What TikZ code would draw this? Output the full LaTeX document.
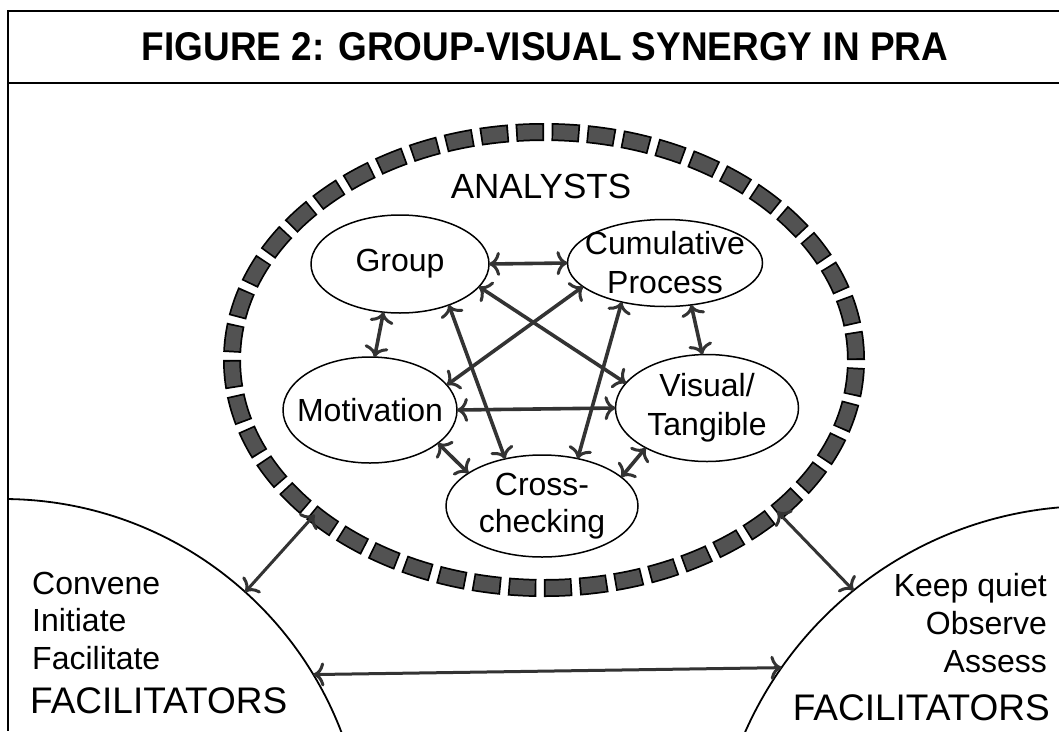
\documentclass[tikz,border=0pt]{standalone}
\usepackage{fontspec}
\setmainfont{Liberation Sans}
\usepackage{graphicx}
\usetikzlibrary{shapes.geometric,arrows.meta}
\begin{document}
\begin{tikzpicture}[x=1pt,y=-1pt,
  bubble/.style={draw, ellipse, line width=1.5pt, inner sep=-40pt, outer sep=0pt, align=center,
    font=\fontsize{32}{39}\selectfont},
  bigcirc/.style={draw, circle, line width=1.8pt, inner sep=0pt, outer sep=0pt},
  link/.style={>={Computer Modern Rightarrow[length=11pt,width=24pt,line width=3pt]}, <->,
    line width=3.6pt, draw=black!80},
  outerlink/.style={link, line width=3pt},
  side/.style={font=\fontsize{32}{38}\selectfont, inner sep=0pt},
  role/.style={font=\fontsize{37}{40}\selectfont, inner sep=0pt},
  frame/.style={line width=1.8pt}
]
\useasboundingbox (0,0) rectangle (1059,731);
\fill[white] (0,0) rectangle (1059,731);

% frame
\draw[frame] (1059,11) -- (8,11) -- (8,731);
\draw[frame] (8,83) -- (1059,83);

% title
\node[anchor=base, inner sep=0pt] (title) at (545,60)
  {\resizebox{806pt}{28pt}{\bfseries FIGURE 2: GROUP-VISUAL SYNERGY IN PRA}};

% facilitator circles
\begin{scope}
  \clip (8,0) rectangle (1059,731);
  \node[bigcirc, minimum size=724pt] (LF) at (3,861) {};
  \node[bigcirc, minimum size=758pt] (RF) at (1092,885) {};
\end{scope}

% analysts dashed ellipse
\node[ellipse, minimum width=624pt, minimum height=456pt, inner sep=0pt, outer sep=0pt,
  draw=black, line width=18pt, dash pattern=on 28pt off 7.56pt,
  postaction={draw=black!68, line width=14.5pt, dash pattern=on 24.5pt off 11.06pt, dash phase=33.81pt}]
  (D) at (544,360) {};
\node[anchor=base, inner sep=0pt, font=\fontsize{35}{40}\selectfont] (an) at (541,198) {ANALYSTS};

% bubbles
\node[bubble, minimum width=178pt, minimum height=98pt] (G) at (400,264) {Group};
\node[bubble, minimum width=195pt, minimum height=87pt] (C) at (665,263) {Cumulative\\Process};
\node[bubble, minimum width=174pt, minimum height=106pt] (M) at (370,410) {Motivation};
\node[bubble, minimum width=183pt, minimum height=107pt] (V) at (707,408) {Visual/\\Tangible};
\node[bubble, minimum width=192pt, minimum height=102pt, font=\fontsize{32}{37}\selectfont] (X) at (542,506) {Cross-\\checking};

% links
\draw[link] (G.east) -- (C.west);
\draw[link] (G.-109) -- (M.85);
\draw[link] (G.-16) -- (V.163);
\draw[link] (G.-40) -- (X.128);
\draw[link] (C.-164) -- (M.18);
\draw[link] (C.-138) -- (X.53);
\draw[link] (C.-58) -- (V.95);
\draw[link] (M.east) -- (V.west);
\draw[link] (M.-26) -- (X.156);
\draw[link] (V.-147) -- (X.20);

% outer links
\draw[outerlink] (LF.48.5) -- (D.-146);
\draw[outerlink] (RF.129.6) -- (D.-33.3);
\draw[outerlink] (LF.31.5) -- (RF.145.8);

% side texts
\node[side, anchor=base west] (l1) at (32,594) {Convene};
\node[side, anchor=base west] (l2) at (32,631) {Initiate};
\node[side, anchor=base west] (l3) at (32,669) {Facilitate};
\node[role, anchor=base west] (l4) at (30,713) {FACILITATORS};
\node[side, anchor=base east] (r1) at (1047,596) {Keep quiet};
\node[side, anchor=base east] (r2) at (1047,634) {Observe};
\node[side, anchor=base east] (r3) at (1047,672) {Assess};
\node[role, anchor=base east] (r4) at (1050,720) {FACILITATORS};
\end{tikzpicture}
\end{document}
